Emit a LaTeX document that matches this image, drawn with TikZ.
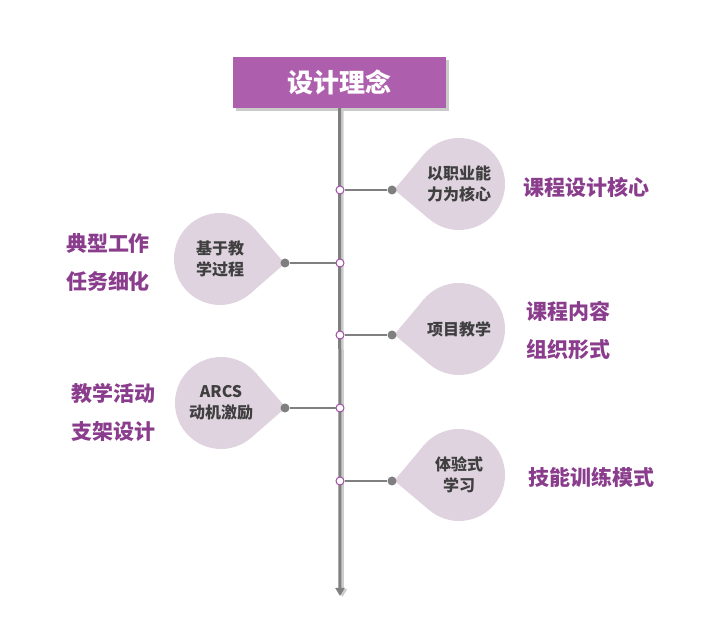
\documentclass[tikz,border=0pt]{standalone}
\usepackage{fontspec}
\newfontfamily\cjk{Noto Sans CJK SC}
\usetikzlibrary{arrows.meta,calc,shadows}

\definecolor{titlepurple}{HTML}{AD5FAD}
\definecolor{labelpurple}{HTML}{8A3D8C}
\definecolor{dropfill}{HTML}{DFD3DF}
\definecolor{linegray}{HTML}{7F7F7F}
\definecolor{ringpurple}{HTML}{A04DA6}
\definecolor{droptext}{HTML}{3F3F3F}

\begin{document}
\begin{tikzpicture}[x=1pt,y=1pt,>={Triangle[width=9pt,length=8pt]},
      titlebox/.style={fill=titlepurple,minimum width=213pt,minimum height=51pt,
        inner sep=0pt,text=white,font=\cjk\bfseries\fontsize{26}{30}\selectfont,
        drop shadow={shadow xshift=3pt,shadow yshift=-3pt,opacity=0.35,fill=black!60}},
      drop/.style={circle,fill=dropfill,minimum size=92pt,inner sep=0pt,outer sep=0pt,
        align=center,text=droptext,font=\cjk\bfseries\fontsize{16}{21}\selectfont},
      tip/.style={fill=dropfill},
      label/.style={align=center,text=labelpurple,
        font=\cjk\bfseries\fontsize{21}{38}\selectfont},
      ring/.style={circle,draw=ringpurple,fill=white,line width=1pt,
        minimum size=8pt,inner sep=0pt},
      dot/.style={circle,fill=linegray,minimum size=9pt,inner sep=0pt},
      branch/.style={linegray,line width=2.5pt},
      trunk/.style={linegray,line width=3pt}]
    \useasboundingbox (0,0) rectangle (710,642);

    \node[titlebox] (title) at (339.5,559.5) {设计理念};
    \coordinate (bottom) at (340,46);
    \draw[trunk,black!20,->] ($(title.south)+(2.5,-1)$) -- ($(bottom)+(2.5,-1)$);
    \draw[trunk,->] (title.south) -- (bottom);

    % drops
    \node[drop] (d1) at (459,458) {以职业能\\力为核心};
    \fill[tip] (d1.140) -- ($(d1)+(185:65)$) -- (d1.230) -- cycle;
    \node[drop] (d2) at (220,383) {基于教\\学过程};
    \fill[tip] (d2.311) -- ($(d2)+(356:65)$) -- (d2.41) -- cycle;
    \node[drop] (d3) at (459,313) {项目教学};
    \fill[tip] (d3.140) -- ($(d3)+(185:65)$) -- (d3.230) -- cycle;
    \node[drop] (d4) at (221,239) {ARCS\\动机激励};
    \fill[tip] (d4.311) -- ($(d4)+(356:65)$) -- (d4.41) -- cycle;
    \node[drop] (d5) at (459,167) {体验式\\学习};
    \fill[tip] (d5.140) -- ($(d5)+(185:65)$) -- (d5.230) -- cycle;

    % branches
    \node[dot] (p1) at (392,452) {};
    \node[ring] (r1) at (340,452) {};
    \draw[branch] (r1) -- (p1);
    \node[dot] (p2) at (285,379) {};
    \node[ring] (r2) at (340,379) {};
    \draw[branch] (r2) -- (p2);
    \node[dot] (p3) at (392,307) {};
    \node[ring] (r3) at (340,307) {};
    \draw[branch] (r3) -- (p3);
    \node[dot] (p4) at (285,234) {};
    \node[ring] (r4) at (340,234) {};
    \draw[branch] (r4) -- (p4);
    \node[dot] (p5) at (392,161) {};
    \node[ring] (r5) at (340,161) {};
    \draw[branch] (r5) -- (p5);

    % labels
    \node[label] (l1) at (586,455) {课程设计核心};
    \node[label] (l2) at (108,380) {典型工作\\任务细化};
    \node[label] (l3) at (568,311.5) {课程内容\\组织形式};
    \node[label] (l4) at (113,230) {教学活动\\支架设计};
    \node[label] (l5) at (591,165) {技能训练模式};
  \end{tikzpicture}
\end{document}
